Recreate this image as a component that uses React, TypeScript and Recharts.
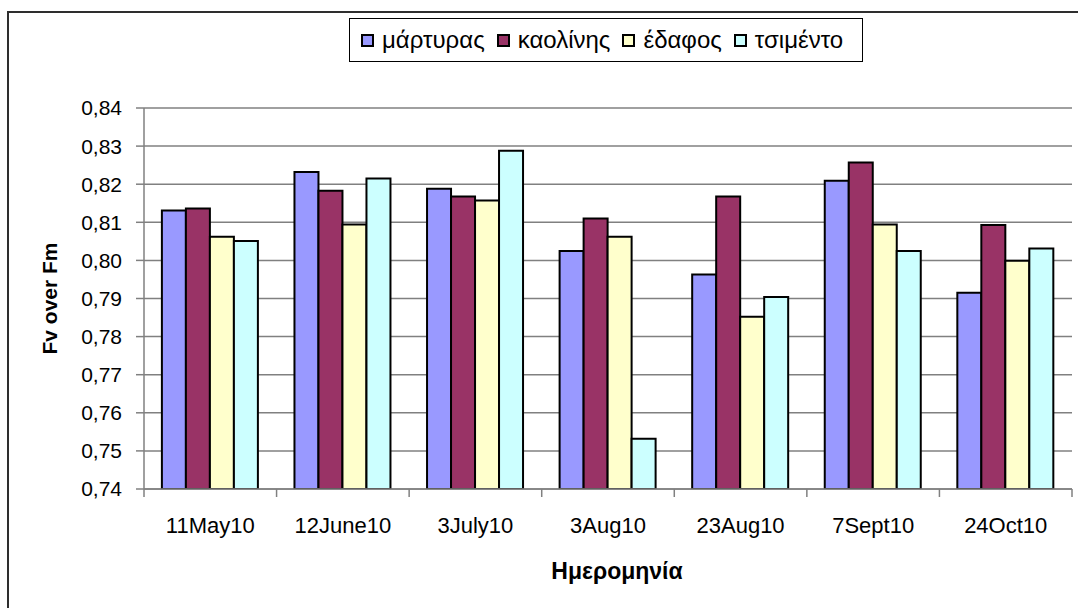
import React from 'react';
import { BarChart, Bar, XAxis, YAxis, CartesianGrid, Legend } from 'recharts';

const categories = ['11May10', '12June10', '3July10', '3Aug10', '23Aug10', '7Sept10', '24Oct10'];
const martyras = [0.8131, 0.8232, 0.8188, 0.8025, 0.7963, 0.8209, 0.7915];
const kaolinis = [0.8136, 0.8183, 0.8168, 0.8110, 0.8168, 0.8257, 0.8093];
const edafos = [0.8062, 0.8094, 0.8157, 0.8062, 0.7852, 0.8094, 0.7999];
const tsimento = [0.8051, 0.8215, 0.8288, 0.7532, 0.7904, 0.8025, 0.8031];
const seriesNames = ['μάρτυρας', 'καολίνης', 'έδαφος', 'τσιμέντο'];
const seriesColors = ['#9999FF', '#993366', '#FFFFCC', '#CCFFFF'];
const yTicks = [0.74, 0.75, 0.76, 0.77, 0.78, 0.79, 0.8, 0.81, 0.82, 0.83, 0.84];
const yTitle = 'Fv over Fm';
const xTitle = 'Ημερομηνία';

const seriesValues = [martyras, kaolinis, edafos, tsimento];
const data = categories.map((c, i) => {
  const row: Record<string, string | number> = { name: c };
  seriesValues.forEach((s, k) => {
    row['s' + k] = s[i];
  });
  return row;
});

const FONT = '"Liberation Sans", Arial, sans-serif';
const GRID = '#808080';
const X_TICK_SIZE = 8;
const X_TICK_MARGIN = 20;

const XTick = (props: any) => {
  const { x, y, payload, index, visibleTicksCount } = props;
  const half = payload && typeof payload.offset === 'number' ? payload.offset : 0;
  const axisY = y - X_TICK_SIZE - X_TICK_MARGIN;
  const isLast = index === (visibleTicksCount ?? categories.length) - 1;
  return (
    <g>
      <line x1={x - half} x2={x - half} y1={axisY} y2={axisY + X_TICK_SIZE} stroke={GRID} strokeWidth={1.5} />
      {isLast && (
        <line x1={x + half} x2={x + half} y1={axisY} y2={axisY + X_TICK_SIZE} stroke={GRID} strokeWidth={1.5} />
      )}
      <text x={x} y={y} dy="0.71em" textAnchor="middle" fontSize={22} fontFamily={FONT} fill="#000">
        {payload.value}
      </text>
    </g>
  );
};

const XTitle = (props: any) => {
  const vb = props.viewBox || {};
  return (
    <text
      x={vb.x + vb.width / 2 + 9}
      y={vb.y + vb.height + 30}
      textAnchor="middle"
      fontSize={23}
      fontWeight="bold"
      fontFamily={FONT}
      fill="#000"
    >
      {xTitle}
    </text>
  );
};

const YTitle = (props: any) => {
  const vb = props.viewBox || {};
  const cx = 49;
  const cy = vb.y + vb.height / 2;
  return (
    <text
      x={cx}
      y={cy}
      transform={`rotate(-90, ${cx}, ${cy})`}
      textAnchor="middle"
      dominantBaseline="central"
      fontSize={21}
      fontWeight="bold"
      fontFamily={FONT}
      fill="#000"
    >
      {yTitle}
    </text>
  );
};

const renderLegend = () => (
  <div
    style={{
      boxSizing: 'border-box',
      width: 514,
      height: 44,
      border: '1px solid #000',
      background: '#fff',
      display: 'flex',
      alignItems: 'center',
      paddingLeft: 11,
      fontFamily: FONT,
      fontSize: 24,
      color: '#000',
      whiteSpace: 'nowrap',
    }}
  >
    {seriesNames.map((n, i) => (
      <div key={n} style={{ display: 'flex', alignItems: 'center', marginRight: 12 }}>
        <span
          style={{
            display: 'inline-block',
            boxSizing: 'border-box',
            width: 13,
            height: 13,
            border: '2px solid #000',
            background: seriesColors[i],
            marginRight: 8,
          }}
        />
        <span>{n}</span>
      </div>
    ))}
  </div>
);

export default function App() {
  return (
    <div style={{ position: 'absolute', left: 0, top: 0, width: 1078, height: 608, overflow: 'hidden', background: '#fff' }}>
      <div
        style={{
          position: 'absolute',
          left: 7,
          top: 11,
          width: 1200,
          height: 800,
          borderLeft: '2px solid #2e2e2e',
          borderTop: '2px solid #2e2e2e',
        }}
      />
      <div style={{ position: 'absolute', left: 0, top: 0 }}>
        <BarChart
          width={1078}
          height={608}
          data={data}
          margin={{ top: 108, right: 6, bottom: 59, left: 44 }}
          barCategoryGap="13.5%"
          barGap={0}
        >
          <CartesianGrid vertical={false} stroke={GRID} strokeWidth={1.5} />
          <XAxis
            dataKey="name"
            height={60}
            interval={0}
            tick={<XTick />}
            tickLine={false}
            tickSize={X_TICK_SIZE}
            tickMargin={X_TICK_MARGIN}
            axisLine={{ stroke: GRID, strokeWidth: 1.5 }}
            label={<XTitle />}
          />
          <YAxis
            width={100}
            domain={[0.74, 0.84]}
            ticks={yTicks}
            interval={0}
            allowDataOverflow
            tickFormatter={(v: number) => v.toFixed(2).replace('.', ',')}
            tick={{ fontSize: 21, fill: '#000', fontFamily: FONT }}
            tickSize={8}
            tickMargin={14}
            tickLine={{ stroke: GRID, strokeWidth: 1.5 }}
            axisLine={{ stroke: GRID, strokeWidth: 1.5 }}
            label={<YTitle />}
          />
          <Legend
            verticalAlign="middle"
            align="center"
            layout="horizontal"
            wrapperStyle={{ top: 18, left: 349, right: 'auto', bottom: 'auto', width: 514, height: 44 }}
            content={renderLegend}
          />
          {seriesNames.map((n, i) => (
            <Bar
              key={n}
              dataKey={'s' + i}
              name={n}
              fill={seriesColors[i]}
              stroke="#000"
              strokeWidth={2}
              isAnimationActive={false}
            />
          ))}
        </BarChart>
      </div>
    </div>
  );
}
